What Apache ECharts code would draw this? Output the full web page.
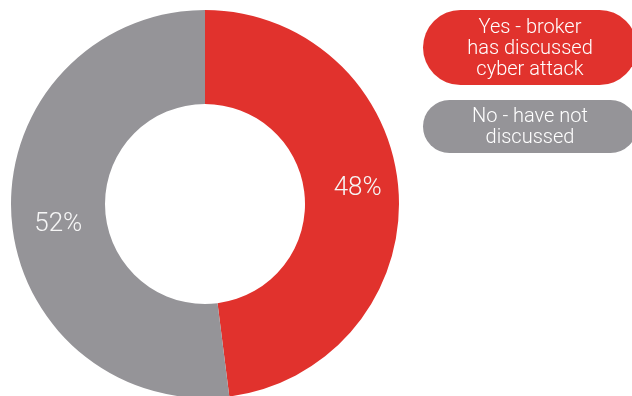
<!DOCTYPE html>
<html>
<head>
<meta charset="utf-8">
<script src="https://cdn.jsdelivr.net/npm/echarts@6/dist/echarts.min.js"></script>
<style>
  html, body { margin: 0; padding: 0; background: #fff; }
  #chart { width: 632px; height: 396px; }
</style>
</head>
<body>
<div id="chart"></div>
<script>
// Survey answers: has the broker discussed a cyber attack?
const categories = ['Yes - broker\nhas discussed\ncyber attack', 'No - have not\ndiscussed'];
const shares = [48, 52];
const colors = ['#E1322D', '#959498'];

const FONT = 'Roboto, "Liberation Sans", sans-serif';

// label nudges from the ring midpoint, per slice
const labelOffsets = [[3, -6], [3, 11]];
// pill shapes for the legend entries
const pillHeights = [75, 53];
const pillPadding = [[7, 0, 5, 0], [6, 0, 5, 0]];
const PILL_WIDTH = 214;

const chart = echarts.init(document.getElementById('chart'), null, { renderer: 'canvas' });

const pieData = categories.map((name, i) => ({
  name: name,
  value: shares[i],
  itemStyle: { color: colors[i] },
  label: { offset: labelOffsets[i] }
}));

const legendData = categories.map((name, i) => ({
  name: name,
  icon: 'none',
  textStyle: {
    backgroundColor: colors[i],
    borderRadius: pillHeights[i] / 2,
    padding: pillPadding[i]
  }
}));

chart.setOption({
  backgroundColor: '#fff',
  animation: false,
  legend: {
    orient: 'vertical',
    left: 418,
    top: 10,
    itemWidth: 0,
    itemHeight: 0,
    itemGap: 15,
    padding: 0,
    selectedMode: false,
    data: legendData,
    // centre every line inside the pill
    formatter: name => name.split('\n').map(line => '{c|' + line + '}').join('\n'),
    textStyle: {
      color: '#ffffff',
      fontFamily: FONT,
      fontWeight: 300,
      fontSize: 20,
      lineHeight: 21,
      rich: {
        c: {
          width: PILL_WIDTH,
          align: 'center',
          color: '#ffffff',
          fontFamily: FONT,
          fontWeight: 300,
          fontSize: 20,
          lineHeight: 21
        }
      }
    }
  },
  series: [{
    type: 'pie',
    center: [205, 204],
    radius: [100, 194],
    startAngle: 90,
    clockwise: true,
    silent: true,
    data: pieData,
    labelLine: { show: false },
    label: {
      show: true,
      position: 'inside',
      formatter: '{c}%',
      color: '#f6f6f6',
      fontFamily: FONT,
      fontWeight: 300,
      fontSize: 26
    },
    emphasis: { disabled: true }
  }]
});
</script>
</body>
</html>
